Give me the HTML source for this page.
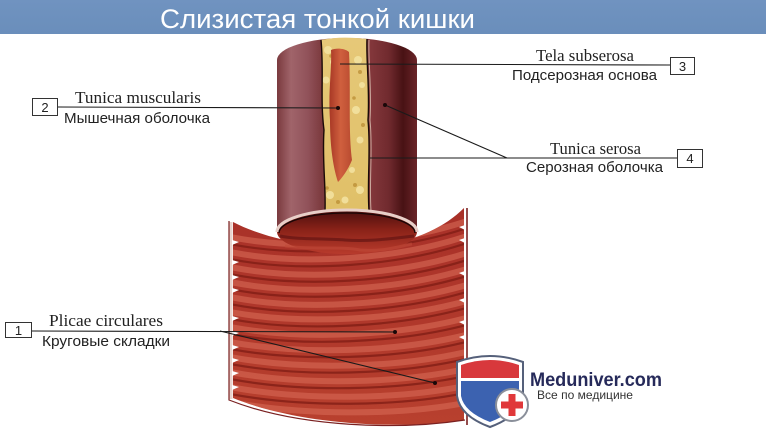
<!DOCTYPE html>
<html><head><meta charset="utf-8"><style>
html,body{margin:0;padding:0;background:#fff;}
body{width:766px;height:433px;overflow:hidden;}
svg{display:block;}
</style></head><body>
<svg width="766" height="433" viewBox="0 0 766 433" xmlns="http://www.w3.org/2000/svg">
<defs>
<linearGradient id="hdr" x1="0" y1="0" x2="0" y2="1"><stop offset="0" stop-color="#7093c0"/><stop offset="1" stop-color="#6a8ebb"/></linearGradient>
<linearGradient id="tube" x1="0" y1="0" x2="1" y2="0">
<stop offset="0" stop-color="#7a3a3e"/><stop offset="0.1" stop-color="#a0646a"/><stop offset="0.22" stop-color="#91525a"/><stop offset="0.32" stop-color="#7c3a3e"/>
<stop offset="0.66" stop-color="#84383c"/><stop offset="0.8" stop-color="#702a2e"/><stop offset="0.9" stop-color="#481214"/><stop offset="1" stop-color="#6a2428"/></linearGradient>
<linearGradient id="sheet" x1="0" y1="0" x2="0" y2="1"><stop offset="0" stop-color="#a83028"/><stop offset="1" stop-color="#b8402e"/></linearGradient>
<linearGradient id="open" x1="0" y1="0" x2="0" y2="1"><stop offset="0" stop-color="#4a0e0e"/><stop offset="0.45" stop-color="#8a2218"/><stop offset="1" stop-color="#b83a2c"/></linearGradient>
<linearGradient id="cutY" x1="0" y1="0" x2="0" y2="1"><stop offset="0" stop-color="#e6c878"/><stop offset="1" stop-color="#e0c068"/></linearGradient>
<linearGradient id="musc" x1="0" y1="0" x2="1" y2="0"><stop offset="0" stop-color="#a83826"/><stop offset="0.5" stop-color="#d0603e"/><stop offset="1" stop-color="#b84a30"/></linearGradient>
<clipPath id="sheetClip"><path d="M233,222 C260,236 300,246 347,248 C400,248 440,232 464,208 L464,420 C400,430 300,425 233,398 Z"/></clipPath>
</defs>

<!-- header -->
<rect x="0" y="0" width="766" height="34" fill="url(#hdr)"/>
<text x="160" y="28" font-family="'Liberation Sans','DejaVu Sans',sans-serif" font-size="27" fill="#fff" textLength="315" lengthAdjust="spacingAndGlyphs">Слизистая тонкой кишки</text>

<!-- lower sheet -->
<path d="M233,222 C260,236 300,246 347,248 C400,248 440,232 464,208 L464,420 C400,430 300,425 233,398 Z" fill="url(#sheet)"/>
<g clip-path="url(#sheetClip)" fill="none">
<g stroke="#d86a56" stroke-width="6" opacity=".6">
<path d="M225,236 C300,252 400,244 470,220"/>
<path d="M225,251 C300,267 400,259 470,235"/>
<path d="M225,266 C300,282 400,275 470,252"/>
<path d="M225,281 C300,297 400,290 470,268"/>
<path d="M225,296 C300,312 400,305 470,284"/>
<path d="M225,311 C300,326 400,320 470,300"/>
<path d="M225,326 C300,341 400,336 470,317"/>
<path d="M225,341 C300,356 400,352 470,334"/>
<path d="M225,356 C300,371 400,368 470,351"/>
<path d="M225,371 C300,386 400,384 470,368"/>
<path d="M225,386 C300,401 400,400 470,385"/>
<path d="M225,401 C300,416 400,416 470,402"/>
</g>
<g stroke="#7e1c14" stroke-width="2.2" opacity=".75">
<path d="M225,243 C300,259 400,251 470,227"/>
<path d="M225,258 C300,274 400,266 470,242"/>
<path d="M225,273 C300,289 400,282 470,259"/>
<path d="M225,288 C300,304 400,297 470,275"/>
<path d="M225,303 C300,319 400,312 470,291"/>
<path d="M225,318 C300,333 400,327 470,307"/>
<path d="M225,333 C300,348 400,343 470,324"/>
<path d="M225,348 C300,363 400,359 470,341"/>
<path d="M225,363 C300,378 400,375 470,358"/>
<path d="M225,378 C300,393 400,391 470,375"/>
<path d="M225,393 C300,408 400,407 470,392"/>
</g>
</g>
<!-- sheet edges -->
<path d="M231,222 L231,399" stroke="#e9d2cc" stroke-width="3"/>
<path d="M229,221 L229,400 C300,428 400,430 465,420" stroke="#7a2020" stroke-width="1.2" fill="none"/>
<path d="M467,208 L467,425" stroke="#7a2020" stroke-width="1.6"/>
<g fill="#fff">
<path d="M232,240 l7,2 l-7,3z"/><path d="M232,260 l7,2 l-7,3z"/><path d="M232,275 l7,2 l-7,3z"/><path d="M232,288 l7,2 l-7,3z"/><path d="M232,316 l7,2 l-7,3z"/><path d="M232,331 l7,2 l-7,3z"/><path d="M232,345 l7,2 l-7,3z"/><path d="M232,358 l7,2 l-7,3z"/><path d="M232,371 l7,2 l-7,3z"/><path d="M232,385 l7,2 l-7,3z"/>
<path d="M465,225 l-6,2 l6,3z"/><path d="M465,238 l-6,2 l6,3z"/><path d="M465,271 l-6,2 l6,3z"/><path d="M465,298 l-6,2 l6,3z"/><path d="M465,320 l-6,2 l6,3z"/><path d="M465,335 l-6,2 l6,3z"/>
</g>

<!-- upper tube -->
<path d="M277,60 A70,22 0 0 1 417,60 L417,232 L277,232 Z" fill="url(#tube)"/>
<!-- cut (yellow) -->
<path d="M321,40 C324,70 320,100 324,130 C322,160 326,185 325,211 L369,211 C367,180 371,150 368,120 C370,90 366,60 367,39 C350,37 335,37 321,40 Z" fill="url(#cutY)"/>
<g fill="#f3e2a0" opacity=".9">
<circle cx="328" cy="50" r="4"/><circle cx="333" cy="62" r="3"/><circle cx="326" cy="80" r="3.5"/><circle cx="358" cy="60" r="4"/><circle cx="362" cy="85" r="3"/><circle cx="356" cy="110" r="4"/><circle cx="360" cy="140" r="3.5"/><circle cx="330" cy="195" r="4"/><circle cx="345" cy="200" r="3.5"/><circle cx="360" cy="190" r="4"/><circle cx="352" cy="170" r="3"/>
</g>
<g fill="#b88a30" opacity=".7">
<circle cx="331" cy="56" r="1.8"/><circle cx="360" cy="72" r="2"/><circle cx="354" cy="98" r="1.8"/><circle cx="363" cy="125" r="2"/><circle cx="338" cy="202" r="2"/><circle cx="355" cy="185" r="2"/><circle cx="327" cy="188" r="1.8"/>
</g>
<path d="M331,50 C336,48 344,48 349,52 C351,90 348,130 352,160 C348,170 342,178 338,182 C334,170 330,150 330,120 C328,90 332,70 331,50 Z" fill="url(#musc)"/>
<path d="M321,40 C324,70 320,100 324,130 C322,160 326,185 325,211" stroke="#1a0a08" stroke-width="1.4" fill="none"/>
<path d="M367,39 C366,60 370,90 368,120 C371,150 367,180 369,211" stroke="#1a0a08" stroke-width="1.4" fill="none"/>
<path d="M369,40 C368,60 372,90 370,120 C373,150 369,180 371,211" stroke="#e8d8c8" stroke-width="1" fill="none" opacity=".7"/>
<!-- opening -->
<ellipse cx="347" cy="232" rx="70" ry="22" fill="url(#open)"/>
<path d="M277,232 A70,22 0 0 1 417,232" fill="none" stroke="#e8cfc8" stroke-width="3"/>
<path d="M279,233 A68,20 0 0 1 415,233" fill="none" stroke="#1a0606" stroke-width="1.3"/>
<path d="M280,236 C300,240 320,238 345,240 C370,242 395,238 414,236" fill="none" stroke="#5a1010" stroke-width="3" opacity=".6"/>
<path d="M285,246 C310,250 340,246 360,250 C385,252 400,246 412,244" fill="none" stroke="#c04a38" stroke-width="3" opacity=".6"/>

<!-- leader lines -->
<g stroke="#1a1a1a" stroke-width="1.1" fill="none">
<path d="M57,107 L338,108"/>
<path d="M340,64 L670,65"/>
<path d="M370,158 L677,158"/>
<path d="M507,158 L385,105"/>
<path d="M31,331 L395,332"/>
<path d="M220,331 L435,383"/>
</g>
<g fill="#1a0808"><circle cx="338" cy="108" r="2"/><circle cx="385" cy="105" r="2"/><circle cx="395" cy="332" r="2"/><circle cx="435" cy="383" r="2"/></g>

<!-- boxes -->
<g fill="#fff" stroke="#333" stroke-width="1">
<rect x="32.5" y="98.5" width="25" height="17"/>
<rect x="670.5" y="57.5" width="24" height="17"/>
<rect x="677.5" y="149.5" width="25" height="18"/>
<rect x="5.5" y="322.5" width="26" height="15"/>
</g>
<g font-family="'Liberation Sans',sans-serif" font-size="13" fill="#222" text-anchor="middle">
<text x="45" y="112">2</text><text x="682.5" y="71">3</text><text x="690" y="163">4</text><text x="18.5" y="335">1</text>
</g>

<!-- labels -->
<g font-family="'Liberation Serif',serif" font-size="17" fill="#222">
<text x="75" y="103" textLength="126" lengthAdjust="spacingAndGlyphs">Tunica muscularis</text>
<text x="536" y="61" textLength="98" lengthAdjust="spacingAndGlyphs">Tela subserosa</text>
<text x="550" y="154" textLength="91" lengthAdjust="spacingAndGlyphs">Tunica serosa</text>
<text x="49" y="326" textLength="114" lengthAdjust="spacingAndGlyphs">Plicae circulares</text>
</g>
<g font-family="'Liberation Sans',sans-serif" font-size="14.5" fill="#222">
<text x="64" y="123" textLength="146" lengthAdjust="spacingAndGlyphs">Мышечная оболочка</text>
<text x="512" y="80" textLength="145" lengthAdjust="spacingAndGlyphs">Подсерозная основа</text>
<text x="526" y="172" textLength="137" lengthAdjust="spacingAndGlyphs">Серозная оболочка</text>
<text x="42" y="346" textLength="128" lengthAdjust="spacingAndGlyphs">Круговые складки</text>
</g>

<!-- logo -->
<path d="M457,362 Q490,350 523,362 L523,396 Q520,416 490,427 Q460,416 457,396 Z" fill="#fff" stroke="#55607a" stroke-width="2"/>
<path d="M461,365 Q490,355 519,365 L519,378 L461,378 Z" fill="#d8383c"/>
<path d="M461,381 L519,381 L519,396 Q516,412 490,422 Q464,412 461,396 Z" fill="#3c62b0"/>
<circle cx="512" cy="405" r="16" fill="#fff" stroke="#8a8f9a" stroke-width="2"/>
<path d="M508.5,394 h7 v7.5 h7.5 v7 h-7.5 v7.5 h-7 v-7.5 h-7.5 v-7 h7.5 z" fill="#e0383a"/>
<text x="530" y="386" font-family="'Liberation Sans',sans-serif" font-weight="bold" font-size="19" fill="#262a5a" textLength="132" lengthAdjust="spacingAndGlyphs">Meduniver.com</text>
<text x="537" y="399" font-family="'Liberation Sans',sans-serif" font-size="12" fill="#333" textLength="96" lengthAdjust="spacingAndGlyphs">Все по медицине</text>
</svg>
</body></html>
